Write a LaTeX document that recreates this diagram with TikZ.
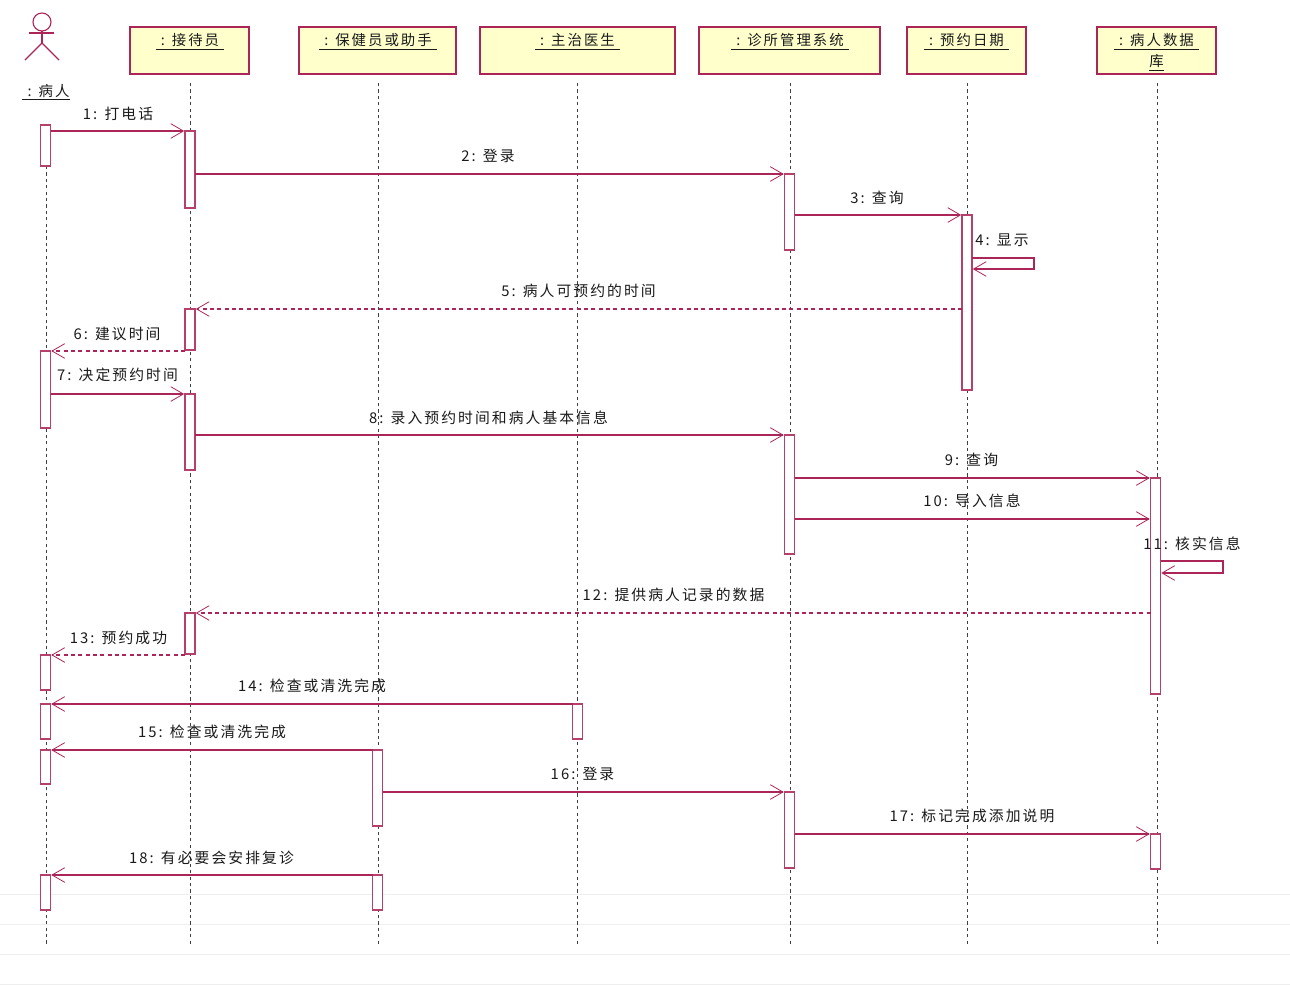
\documentclass[tikz,border=0pt]{standalone}
\usepackage{fontspec}
\setmainfont[LetterSpace=14]{Noto Sans CJK SC}
\usetikzlibrary{arrows.meta}
\definecolor{umlline}{HTML}{AB2558}
\definecolor{umlbar}{HTML}{B5406C}
\definecolor{umlfill}{HTML}{FFFFCC}
\definecolor{umltext}{HTML}{1A1A1A}
\definecolor{rulegrey}{HTML}{EEEEEE}
\tikzset{
  head/.style={draw=umlline,fill=umlfill,line width=0.8pt,inner sep=0pt,outer sep=0pt,anchor=north west,
    text=umltext,font=\fontsize{10.8}{15.7}\selectfont,align=center},
  headtext/.style={text=umltext,font=\fontsize{10.8}{15.7}\selectfont,align=center,inner sep=0pt},
  actbar/.style={draw=umlbar,fill=white,line width=0.85pt,inner sep=0pt,outer sep=0pt,minimum width=7.5pt,anchor=north},
  lifeline/.style={draw=black!75,line width=0.8pt,dash pattern=on 2.4pt off 2.4pt},
  msg/.style={draw=umlline,line width=0.95pt,-{Straight Barb[length=9.5pt,width=11pt,line width=0.6pt]},shorten >=0.6pt},
  reply/.style={msg,dash pattern=on 3pt off 2.5pt},
  lbl/.style={text=umltext,font=\fontsize{11.1}{12}\selectfont,inner sep=0pt},
  actorline/.style={draw=umlline,line width=0.85pt},
  greyrule/.style={draw=rulegrey,line width=0.75pt}
}
\newcommand{\actbar}[4]{%
  \pgfmathsetmacro{\barh}{(#4-#3)*0.75}
  \node[actbar,minimum height=\barh pt] (#1) at (#2,#3) {};}
\newcommand{\headbox}[7]{%
  \pgfmathsetmacro{\boxw}{(#3-#2)*0.75}
  \pgfmathsetmacro{\boxh}{(#5-#4)*0.75}
  \node[head,minimum width=\boxw pt,minimum height=\boxh pt] (#1) at (#2,#4) {};
  \node[headtext,anchor=north] (#1t) at (#6,33.5) {#7};}
\begin{document}
\begin{tikzpicture}[x=0.75pt,y=-0.75pt]
\useasboundingbox (0,0) rectangle (1290,985);
\fill[white] (0,0) rectangle (1290,985);
\foreach \ry in {894,924,954,984} \draw[greyrule] (0,\ry) -- (1290,\ry);

\coordinate (endp) at (46.5,945);
\coordinate (endr) at (190.5,945);
\coordinate (endh) at (378.5,945);
\coordinate (endm) at (577.5,945);
\coordinate (endc) at (790.5,945);
\coordinate (enda) at (967.5,945);
\coordinate (endd) at (1157.5,945);

% actor
\node[circle,draw=umlline,line width=0.85pt,fill=white,minimum size=13.5pt,inner sep=0pt,outer sep=0pt] (actorhead) at (42,22) {};
\coordinate (armL) at (29,33);
\coordinate (armR) at (54,33);
\coordinate (hip) at (42,43);
\coordinate (legL) at (25,60);
\coordinate (legR) at (59,60);
\draw[actorline] (armL) -- (armR);
\draw[actorline] (actorhead.south) -- (hip);
\draw[actorline] (legL) -- (hip) -- (legR);
\node[headtext,anchor=center] (actorname) at (46,92) {\underline{\ : 病人}};

% heads
\headbox{hr}{130}{249}{27}{74}{190}{\underline{\ : 接待员\ }}
\headbox{hh}{299}{456}{27}{74}{378}{\underline{\ : 保健员或助手\ }}
\headbox{hm}{480}{675}{27}{74}{577.5}{\underline{\ : 主治医生\ }}
\headbox{hc}{699}{880}{27}{74}{790}{\underline{\ : 诊所管理系统\ }}
\headbox{ha}{907}{1026}{27}{74}{966.5}{\underline{\ : 预约日期\ }}
\headbox{hd}{1097}{1216}{27}{74}{1156.5}{\underline{\ : 病人数据\ }\\\underline{库}}

% lifelines
\draw[lifeline] (46.5,166) -- (endp);
\draw[lifeline] (190.5,83) -- (endr);
\draw[lifeline] (378.5,83) -- (endh);
\draw[lifeline] (577.5,83) -- (endm);
\draw[lifeline] (790.5,83) -- (endc);
\draw[lifeline] (967.5,83) -- (enda);
\draw[lifeline] (1157.5,83) -- (endd);

% activations
\actbar{p1}{45.5}{125}{166}
\actbar{p2}{45.5}{351}{428}
\actbar{p3}{45.5}{655}{690}
\actbar{p4}{45.5}{704}{739}
\actbar{p5}{45.5}{750}{784}
\actbar{p6}{45.5}{875}{910}
\actbar{r1}{190}{131}{208}
\actbar{r2}{190}{309}{350}
\actbar{r3}{190}{394}{470}
\actbar{r4}{190}{613}{654}
\actbar{h1}{377.5}{750}{826}
\actbar{h2}{377.5}{875}{910}
\actbar{m1}{577.5}{704}{739}
\actbar{c1}{789.5}{174}{250}
\actbar{c2}{789.5}{435}{554}
\actbar{c3}{789.5}{792}{868}
\actbar{a1}{967}{215}{390}
\actbar{d1}{1155.5}{478}{694}
\actbar{d2}{1155.5}{834}{869}

% messages
\draw[msg] (p1.east |- r1.north) -- (r1.north west);
\draw[msg] (r1.east |- c1.north) -- (c1.north west);
\draw[msg] (c1.east |- a1.north) -- (a1.north west);
\coordinate (s4a) at (1034,258);
\coordinate (s4b) at (1034,269);
\draw[msg] (a1.east |- s4a) -- (s4a) -- (s4b) -- (a1.east |- s4b);
\draw[reply] (a1.west |- r2.north) -- (r2.north east);
\draw[reply] (r2.west |- p2.north) -- (p2.north east);
\draw[msg] (p2.east |- r3.north) -- (r3.north west);
\draw[msg] (r3.east |- c2.north) -- (c2.north west);
\draw[msg] (c2.east |- d1.north) -- (d1.north west);
\coordinate (y10) at (0,519);
\draw[msg] (c2.east |- y10) -- (d1.west |- y10);
\coordinate (s11a) at (1223,561);
\coordinate (s11b) at (1223,573);
\draw[msg] (d1.east |- s11a) -- (s11a) -- (s11b) -- (d1.east |- s11b);
\draw[reply] (d1.west |- r4.north) -- (r4.north east);
\draw[reply] (r4.west |- p3.north) -- (p3.north east);
\draw[msg] (m1.north west) -- (p4.north east);
\draw[msg] (h1.north west) -- (p5.north east);
\draw[msg] (h1.east |- c3.north) -- (c3.north west);
\draw[msg] (c3.east |- d2.north) -- (d2.north west);
\draw[msg] (h2.north west) -- (p6.north east);

% labels
\node[lbl] (l1) at (118,113.5) {1: 打电话};
\node[lbl] (l2) at (488,156) {2: 登录};
\node[lbl] (l3) at (877,197.5) {3: 查询};
\node[lbl] (l4) at (1002,240) {4: 显示};
\node[lbl] (l5) at (578.5,291) {5: 病人可预约的时间};
\node[lbl] (l6) at (117,333.5) {6: 建议时间};
\node[lbl] (l7) at (117.5,374.5) {7: 决定预约时间};
\node[lbl] (l8) at (488.5,417.5) {8: 录入预约时间和病人基本信息};
\node[lbl] (l9) at (971.5,460) {9: 查询};
\node[lbl] (l10) at (972,501) {10: 导入信息};
\node[lbl] (l11) at (1192,543.5) {11: 核实信息};
\node[lbl] (l12) at (673.5,594.5) {12: 提供病人记录的数据};
\node[lbl] (l13) at (118.5,637.5) {13: 预约成功};
\node[lbl] (l14) at (312,686) {14: 检查或清洗完成};
\node[lbl] (l15) at (212,732) {15: 检查或清洗完成};
\node[lbl] (l16) at (582.5,773.5) {16: 登录};
\node[lbl] (l17) at (972,816) {17: 标记完成添加说明};
\node[lbl] (l18) at (211.5,857.5) {18: 有必要会安排复诊};
\end{tikzpicture}
\end{document}
